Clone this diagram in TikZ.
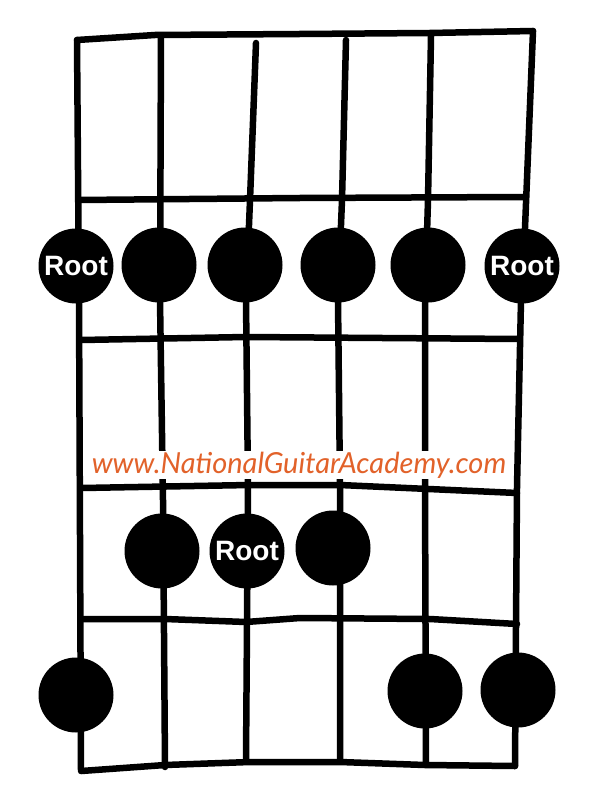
\documentclass[tikz,border=0pt]{standalone}
\usepackage{fontspec}
\newfontfamily\rootfont{Liberation Sans}
\newfontfamily\webfont{Lato}
\usetikzlibrary{positioning}
\definecolor{webcol}{HTML}{E2622A}
\tikzset
{
    wire/.style     = {line width=6.5pt, line cap=round, line join=round},
    dot/.style      = {circle, fill=black, minimum size=75pt, inner sep=0pt},
    rootdot/.style  = {dot, text=white, font=\rootfont\bfseries\fontsize{28}{28}\selectfont},
    weblabel/.style = {fill=white, text=webcol, inner sep=1pt, font=\webfont\itshape\fontsize{29}{29}\selectfont}
}
\begin{document}
\begin{tikzpicture}[x=1pt, y=-1pt]
	\useasboundingbox (0,0) rectangle (600,794);

	% strings
	\draw [wire] (77,40) -- (79,300) -- (81,770);
	\draw [wire] (161,36) -- (160,300) -- (163,500) -- (165,767);
	\draw [wire] (256,43) -- (250,200) -- (246,300) -- (248,487) -- (246,760);
	\draw [wire] (346,40) -- (342,200) -- (338,300) -- (340,487) -- (340,760);
	\draw [wire] (431,36) -- (428,200) -- (425,300) -- (425,487) -- (426,764);
	\draw [wire] (533,31) -- (525,228) -- (521,300) -- (517,487) -- (515,766);

	% frets
	\draw [wire] (77,40) -- (155,35) -- (300,34) -- (430,33) -- (533,31);
	\draw [wire] (79,200) -- (300,198) -- (523,197);
	\draw [wire] (81,340) -- (246,337) -- (519,339);
	\draw [wire] (82,488) -- (250,485) -- (340,485) -- (517,493);
	\draw [wire] (82,619) -- (165,619) -- (246,622) -- (300,618) -- (430,619) -- (517,624);
	\draw [wire] (81,771) -- (165,765) -- (250,762) -- (340,762) -- (425,765) -- (515,766);

	\node (web) [weblabel] at (299,465) {www.NationalGuitarAcademy.com};

	% first row
	\node (r1) [rootdot] at (76,266) {Root};
	\node (d2) [dot] at (159,265) {};
	\node (d3) [dot] at (245,265) {};
	\node (d4) [dot] at (338,265) {};
	\node (d5) [dot] at (428,265) {};
	\node (r6) [rootdot] at (522,266) {Root};

	% second row
	\node (e2) [dot] at (162,551) {};
	\node (e3) [rootdot] at (247,551) {Root};
	\node (e4) [dot] at (333,548) {};

	% third row
	\node (f1) [dot] at (76,695) {};
	\node (f5) [dot] at (425,691) {};
	\node (f6) [dot] at (518,690) {};
\end{tikzpicture}
\end{document}
